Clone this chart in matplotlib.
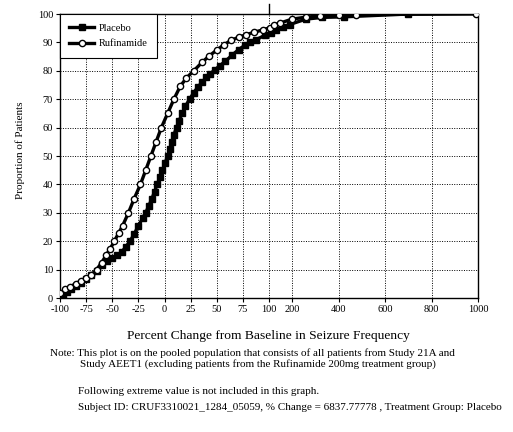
# -*- coding: utf-8 -*-

import numpy as np
import matplotlib
matplotlib.use('Agg')
import matplotlib.pyplot as plt
import matplotlib.transforms as mtransforms

# cumulative proportion of patients (%) vs percent change from baseline
placebo_x = [-97, -93, -89, -85, -80, -75, -70, -65, -60, -55, -50, -45, -41, -37,
             -33, -29, -25, -21, -18, -15, -12, -9.5, -7, -4.5, -2, 0.5, 3, 5, 7,
             9, 11.5, 14, 17, 20, 24, 28, 32, 36, 40, 44, 48, 53, 58, 65, 71, 77,
             82, 88, 96, 110, 130, 160, 190, 260, 330, 425, 699]
placebo_y = [1.0, 2.0, 3.0, 4.2, 5.4, 6.6, 8.0, 9.5, 11.5, 13.0, 14.0, 15.0, 16.2, 18.0,
             20.0, 22.5, 25.5, 28.0, 30.0, 32.5, 35.0, 37.5, 40.0, 42.5, 45.0, 47.5, 50.0,
             52.5, 55.0, 57.5, 60.0, 62.5, 65.0, 67.5, 70.0, 72.3, 74.3, 76.0, 77.7, 79.0,
             80.3, 81.8, 83.3, 85.6, 87.5, 89.0, 90.0, 91.0, 92.5, 93.3, 94.5, 95.4, 96.3,
             98.2, 98.8, 99.0, 100.0]

rufinamide_x = [-100, -95, -90, -85, -80, -75, -70, -65, -60, -56, -52, -48, -44, -40,
                -34.5, -29, -23, -18, -13, -8, -3, 3, 9, 15, 21, 28, 36, 43, 50, 57,
                64, 71, 78, 86, 94, 105, 120, 148, 200, 260, 320, 404, 475, 992]
rufinamide_y = [1.8, 3.0, 4.0, 5.0, 6.0, 7.0, 8.2, 10.0, 12.5, 15.0, 17.3, 20.0, 22.8, 25.5,
                30.0, 35.0, 40.0, 45.0, 50.0, 55.0, 60.0, 65.0, 70.0, 74.5, 77.5, 80.0,
                83.0, 85.3, 87.3, 89.2, 90.8, 91.8, 92.7, 93.6, 94.4, 95.2, 96.0, 96.8,
                98.2, 98.9, 99.3, 99.6, 99.8, 100.0]

x_ticks = [-100, -75, -50, -25, 0, 25, 50, 75, 100, 200, 400, 600, 800, 1000]
y_ticks = [0, 10, 20, 30, 40, 50, 60, 70, 80, 90, 100]

# broken axis: -100..100 linear, 100..200 squeezed, 200..1000 compressed
brk_data = [-200, -100, 100, 200, 1000, 2000]
brk_pix = [-104.5, 0, 209, 232, 418, 650.5]


def fwd(v):
    return np.interp(v, brk_data, brk_pix)


def inv(p):
    return np.interp(p, brk_pix, brk_data)


plt.rcParams['font.family'] = ['Liberation Serif', 'DejaVu Serif']

fig = plt.figure(figsize=(5.13, 4.32), dpi=100)
ax = fig.add_axes([60 / 513, 1 - 298 / 432, 418 / 513, 284 / 432])

ax.plot(placebo_x, placebo_y, color='black', lw=2.4, marker='s', ms=4,
        mfc='black', mec='black', label='Placebo', zorder=3)
ax.plot(rufinamide_x, rufinamide_y, color='black', lw=2.4, marker='o', ms=4.5,
        mfc='white', mec='black', mew=1, label='Rufinamide', zorder=4)

ax.set_xscale('function', functions=(fwd, inv))
ax.set_xlim(-100, 1000)
ax.set_ylim(0, 100)
ax.set_xticks(x_ticks)
ax.set_xticklabels([str(t) for t in x_ticks])
ax.set_yticks(y_ticks)
ax.minorticks_off()
ax.tick_params(axis='both', labelsize=7.5, direction='out', length=3, width=0.8, pad=2)

ax.grid(True, color='black', linestyle=(0, (1, 1.5)), linewidth=0.7)
for s in ax.spines.values():
    s.set_linewidth(1)
    s.set_color('black')

# break marker above the 100 tick
trans = mtransforms.blended_transform_factory(ax.transData, ax.transAxes)
ax.plot([100, 100], [1.0, 1.035], transform=trans, color='black', lw=1, clip_on=False)

leg = ax.legend(loc='upper left', bbox_to_anchor=(0, 1), borderaxespad=0,
                fontsize=7.5, fancybox=False, edgecolor='black', framealpha=1,
                handlelength=2.4, handletextpad=0.4, borderpad=0.9, labelspacing=0.6)
leg.get_frame().set_linewidth(0.8)

fig.text(20 / 513, 1 - 150 / 432, 'Proportion of Patients', rotation=90,
         ha='center', va='center', fontsize=8)
fig.text(268 / 513, 1 - 336 / 432, 'Percent Change from Baseline in Seizure Frequency',
         ha='center', va='center', fontsize=9.7)
fig.text(50 / 513, 1 - 353 / 432,
         'Note: This plot is on the pooled population that consists of all patients from Study 21A and',
         ha='left', va='center', fontsize=8)
fig.text(80 / 513, 1 - 364 / 432,
         'Study AEET1 (excluding patients from the Rufinamide 200mg treatment group)',
         ha='left', va='center', fontsize=8)
fig.text(78 / 513, 1 - 392 / 432,
         'Following extreme value is not included in this graph.',
         ha='left', va='center', fontsize=8)
fig.text(78 / 513, 1 - 407 / 432,
         'Subject ID: CRUF3310021_1284_05059, % Change = 6837.77778 , Treatment Group: Placebo',
         ha='left', va='center', fontsize=8)

fig.savefig('out.png', dpi=100)
